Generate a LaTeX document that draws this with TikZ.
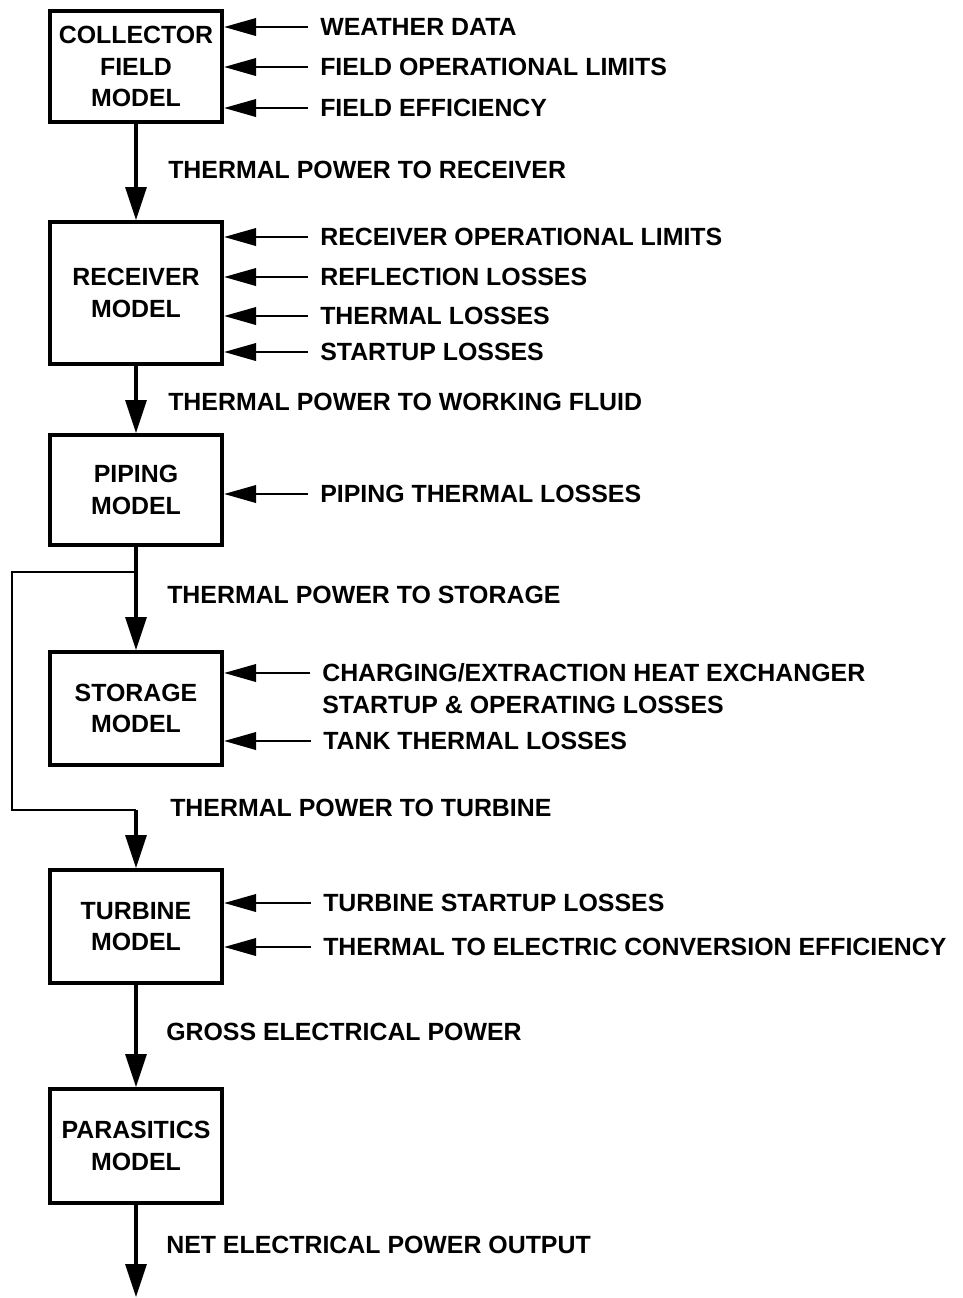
\documentclass[tikz,border=0pt]{standalone}
\usepackage{fontspec}
\setmainfont{Liberation Sans}
\usepackage{tikz}
\usetikzlibrary{arrows.meta,positioning,calc}

\begin{document}
\begin{tikzpicture}[x=0.025cm,y=-0.025cm]

\tikzset{
  model/.style={draw=black, line width=2.8pt, fill=white,
                font=\fontsize{17.7}{22.5}\selectfont\bfseries, align=center,
                minimum width=4.3cm, inner sep=0pt},
  inlabel/.style={anchor=west, font=\fontsize{17.7}{22.5}\selectfont\bfseries,
                inner xsep=0.3cm, inner ysep=0pt, text height=12.7pt, text depth=0pt},
  flowlabel/.style={anchor=west, font=\fontsize{17.7}{22.5}\selectfont\bfseries,
                inner sep=0pt, text height=12.7pt, text depth=0pt},
  feed/.style={black, line width=2.1pt,
                -{Triangle[length=0.8cm, width=0.43cm]}},
  flow/.style={black, line width=2.4pt,
                -{Triangle[length=0.82cm, width=0.52cm]}},
  bypass/.style={black, line width=1.1pt}
}

\useasboundingbox (0,0) rectangle (962,1298);

% Models
\node[model, minimum height=2.775cm] (collector)  at (136, 66.5) {COLLECTOR\\FIELD\\MODEL};
\node[model, minimum height=3.55cm]  (receiver)   at (136, 293)  {RECEIVER\\MODEL};
\node[model, minimum height=2.75cm]  (piping)     at (136, 490)  {PIPING\\MODEL};
\node[model, minimum height=2.825cm] (storage)    at (136, 708.5) {STORAGE\\MODEL};
\node[model, minimum height=2.825cm] (turbine)    at (136, 926.5) {TURBINE\\MODEL};
\node[model, minimum height=2.85cm]  (parasitics) at (136, 1146) {PARASITICS\\MODEL};

% Inputs to collector field
\node[inlabel] (weather)   at (308, 27)  {WEATHER DATA};
\node[inlabel] (fieldlim)  at (308, 67)  {FIELD OPERATIONAL LIMITS};
\node[inlabel] (fieldeff)  at (308, 108) {FIELD EFFICIENCY};
\draw[feed] (weather.west)  -- (weather.west -| collector.east);
\draw[feed] (fieldlim.west) -- (fieldlim.west -| collector.east);
\draw[feed] (fieldeff.west) -- (fieldeff.west -| collector.east);

% Inputs to receiver
\node[inlabel] (reclim)    at (308, 237) {RECEIVER OPERATIONAL LIMITS};
\node[inlabel] (reflect)   at (308, 277) {REFLECTION LOSSES};
\node[inlabel] (recloss)   at (308, 316) {THERMAL LOSSES};
\node[inlabel] (recstart)  at (308, 352) {STARTUP LOSSES};
\draw[feed] (reclim.west)   -- (reclim.west -| receiver.east);
\draw[feed] (reflect.west)  -- (reflect.west -| receiver.east);
\draw[feed] (recloss.west)  -- (recloss.west -| receiver.east);
\draw[feed] (recstart.west) -- (recstart.west -| receiver.east);

% Input to piping
\node[inlabel] (pipeloss)  at (308, 494) {PIPING THERMAL LOSSES};
\draw[feed] (pipeloss.west) -- (pipeloss.west -| piping.east);

% Inputs to storage
\node[inlabel] (charge)    at (310, 673) {CHARGING/EXTRACTION HEAT EXCHANGER};
\node[inlabel] (chargeb)   at (310, 705) {STARTUP \& OPERATING LOSSES};
\node[inlabel] (tankloss)  at (311, 741) {TANK THERMAL LOSSES};
\draw[feed] (charge.west)   -- (charge.west -| storage.east);
\draw[feed] (tankloss.west) -- (tankloss.west -| storage.east);

% Inputs to turbine
\node[inlabel] (turbstart) at (311, 903) {TURBINE STARTUP LOSSES};
\node[inlabel] (conveff)   at (311, 947) {THERMAL TO ELECTRIC CONVERSION EFFICIENCY};
\draw[feed] (turbstart.west) -- (turbstart.west -| turbine.east);
\draw[feed] (conveff.west)   -- (conveff.west -| turbine.east);

% Flows between models
\node[flowlabel] (torec)   at (168, 170)  {THERMAL POWER TO RECEIVER};
\node[flowlabel] (tofluid) at (168, 402)  {THERMAL POWER TO WORKING FLUID};
\node[flowlabel] (tostore) at (167, 595)  {THERMAL POWER TO STORAGE};
\node[flowlabel] (toturb)  at (170, 808)  {THERMAL POWER TO TURBINE};
\node[flowlabel] (gross)   at (166, 1032) {GROSS ELECTRICAL POWER};
\node[flowlabel] (net)     at (166, 1245) {NET ELECTRICAL POWER OUTPUT};

\draw[flow] (collector.south) -- (receiver.north);
\draw[flow] (receiver.south)  -- (piping.north);
\draw[flow] (piping.south)    -- (storage.north);

% Storage bypass
\coordinate (split) at (136, 572);
\coordinate (bend)  at (12, 572);
\coordinate (join)  at (136, 810);
\draw[bypass] (split) -- (bend) |- (join);
\draw[flow] (join) -- (turbine.north);

\draw[flow] (turbine.south) -- (parasitics.north);
\coordinate (output) at (136, 1297);
\draw[flow] (parasitics.south) -- (output);

\end{tikzpicture}
\end{document}
